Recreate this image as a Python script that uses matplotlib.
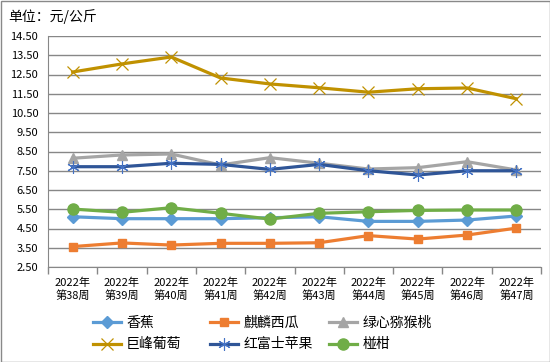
import matplotlib
matplotlib.use("Agg")
import matplotlib.pyplot as plt
from matplotlib.patches import Rectangle
import numpy as np

plt.rcParams['font.family'] = ['Noto Sans CJK SC', 'DejaVu Sans']

weeks = ["2022年\n第38周", "2022年\n第39周", "2022年\n第40周", "2022年\n第41周", "2022年\n第42周",
         "2022年\n第43周", "2022年\n第44周", "2022年\n第45周", "2022年\n第46周", "2022年\n第47周"]
banana = [5.11, 5.01, 5.01, 5.01, 5.06, 5.11, 4.87, 4.87, 4.94, 5.15]
watermelon = [3.56, 3.75, 3.64, 3.73, 3.73, 3.76, 4.13, 3.95, 4.16, 4.52]
kiwi = [8.15, 8.32, 8.37, 7.80, 8.18, 7.89, 7.59, 7.66, 7.97, 7.54]
grape = [12.63, 13.05, 13.41, 12.32, 12.01, 11.81, 11.58, 11.76, 11.80, 11.24]
apple = [7.71, 7.71, 7.89, 7.83, 7.57, 7.83, 7.50, 7.28, 7.50, 7.50]
tangerine = [5.51, 5.34, 5.58, 5.29, 4.99, 5.29, 5.37, 5.44, 5.46, 5.46]
yticks = [2.5, 3.5, 4.5, 5.5, 6.5, 7.5, 8.5, 9.5, 10.5, 11.5, 12.5, 13.5, 14.5]

series = [
    ("香蕉", banana, '#5B9BD5', 'D', 6, 1.0),
    ("麒麟西瓜", watermelon, '#ED7D31', 's', 6, 1.0),
    ("绿心猕猴桃", kiwi, '#A5A5A5', '^', 7, 1.0),
    ("巨峰葡萄", grape, '#C09100', 'x', 8, 0.9),
    ("红富士苹果", apple, '#2F5597', (6, 2, 0), 9, 0.8),
    ("椪柑", tangerine, '#70AD47', 'o', 8, 1.0),
]

fig = plt.figure(figsize=(5.5, 3.62), dpi=100)
ax = fig.add_axes([48/550, 1-267/362, (541-48)/550, (267-36)/362])

x = np.arange(len(weeks))
handles = {}
for name, vals, col, mk, ms, mew in series:
    ec = '#4472C4' if name == "红富士苹果" else col
    h, = ax.plot(x, vals, color=col, lw=2.3, marker=mk, markersize=ms,
                 markerfacecolor=col, markeredgecolor=ec, markeredgewidth=mew,
                 label=name, zorder=3)
    handles[name] = h

ax.set_xlim(-0.5, len(weeks) - 0.5)
ax.set_ylim(2.5, 14.5)
ax.set_yticks(yticks)
ax.set_yticklabels([f"{v:.2f}" for v in yticks], fontsize=8)
ax.set_xticks(x)
ax.set_xticklabels(weeks, fontsize=8, linespacing=1.2)
ax.set_xticks(np.arange(-0.5, len(weeks)), minor=True)
ax.tick_params(axis='x', which='major', length=0, pad=8)
ax.tick_params(axis='x', which='minor', length=5, color='#878787', width=1)
ax.tick_params(axis='y', length=0, pad=7)
ax.grid(axis='y', color='#878787', lw=1, zorder=0)
for s in ['top', 'right']:
    ax.spines[s].set_visible(False)
ax.spines['left'].set_color('#878787')
ax.spines['bottom'].set_color('#878787')

fig.text(8/550, 1-17/362, "单位：元/公斤", fontsize=10, va='center', ha='left')

cols = [["香蕉", "巨峰葡萄"], ["麒麟西瓜", "红富士苹果"], ["绿心猕猴桃", "椪柑"]]
xs = [90, 207, 326]
for cx, names in zip(xs, cols):
    fig.legend([handles[n] for n in names], names, loc='upper left',
               bbox_to_anchor=(cx/550, 1-313/362), frameon=False, fontsize=10,
               handlelength=2.0, handletextpad=0.4, labelspacing=0.55,
               borderaxespad=0, borderpad=0.2)

fig.patches.append(Rectangle((0.5/550, 0.5/362), 549/550, 361/362, transform=fig.transFigure,
                             fill=False, edgecolor='#898989', lw=1))

fig.savefig("out.png", dpi=100)
